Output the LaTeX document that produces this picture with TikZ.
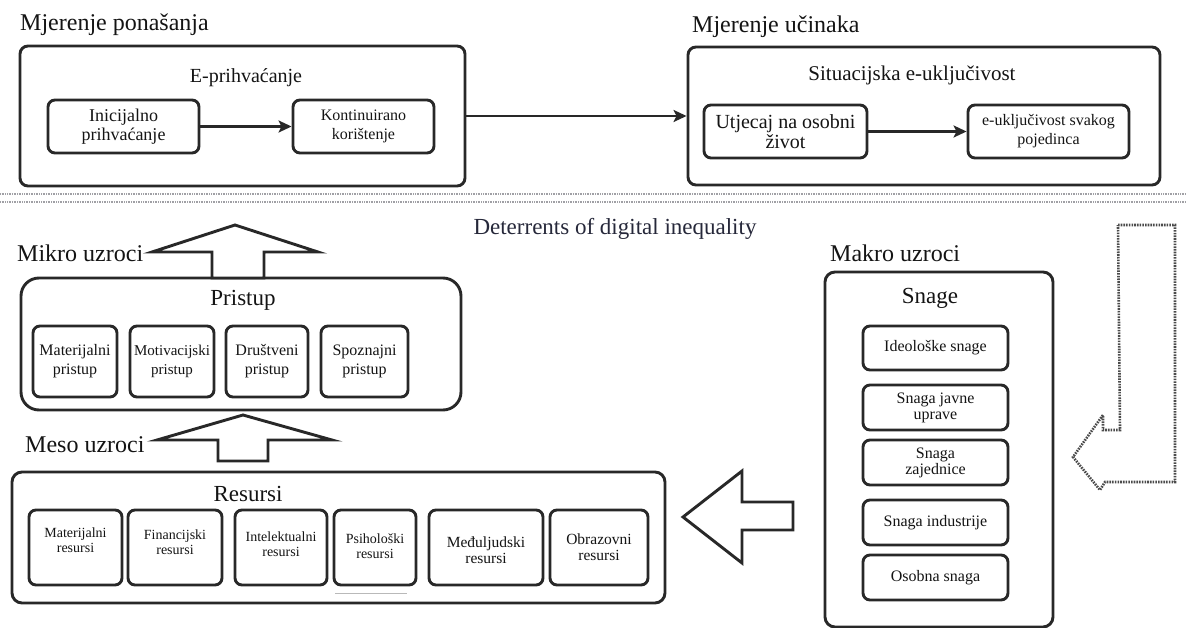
\documentclass[tikz,border=0pt]{standalone}
\usepackage{fontspec}
\setmainfont{Liberation Serif}
\usetikzlibrary{arrows.meta,calc}
\definecolor{lc}{RGB}{40,40,40}
\definecolor{tc}{RGB}{20,20,20}
\definecolor{detc}{RGB}{38,40,58}
\definecolor{dotc}{RGB}{75,75,75}
\definecolor{sepc}{RGB}{160,160,165}
\tikzset{
  bigbox/.style={draw=lc, line width=2.9pt, rounded corners=8pt, inner sep=0pt},
  subbox/.style={draw=lc, line width=2.9pt, rounded corners=7pt, fill=white, inner sep=0pt, align=center, text=tc},
  headtxt/.style={anchor=west, inner sep=0pt, text=tc, font=\fontsize{24pt}{26pt}\selectfont},
  titletxt/.style={inner sep=0pt, text=tc},
  rtext/.style={inner sep=0pt, align=center, text=tc, font=\fontsize{14pt}{15pt}\selectfont},
  conn/.style={-{Stealth[length=13pt,width=12pt,inset=3pt]}, draw=lc, line width=2.9pt},
  blockarrow/.style={draw=lc, line width=2.9pt, fill=white, line join=miter},
  dotarrow/.style={draw=dotc, line width=2.6pt, dash pattern=on 1.6pt off 1.1pt},
  sepline/.style={draw=sepc, line width=2pt, dash pattern=on 1pt off 0.7pt}
}
\begin{document}
\begin{tikzpicture}[x=1pt,y=-1pt]
\useasboundingbox (0,0) rectangle (1186,628);
\fill[white] (0,0) rectangle (1186,628);

% ---------- top section ----------
\node[headtxt] (h1) at (20,25) {Mjerenje ponašanja};
\node[headtxt] (h2) at (692,27) {Mjerenje učinaka};
\node[bigbox, minimum width=445pt, minimum height=140pt] (L) at (242.5,116) {};
\node[bigbox, minimum width=472pt, minimum height=138pt] (R) at (924,116) {};
\node[titletxt, font=\fontsize{20pt}{22pt}\selectfont] (eprih) at (246,78) {E-prihvaćanje};
\node[subbox, minimum width=151pt, minimum height=53pt, font=\fontsize{18pt}{19pt}\selectfont] (ini) at (123.5,126.5) {Inicijalno\\prihvaćanje};
\node[subbox, minimum width=141pt, minimum height=53pt, font=\fontsize{16pt}{19pt}\selectfont] (kon) at (363.5,126.5) {Kontinuirano\\korištenje};
\draw[conn] (ini) -- (kon);
\draw[conn] (L) -- (R);
\node[titletxt, font=\fontsize{21pt}{23pt}\selectfont] (sit) at (912,75) {Situacijska e-uključivost};
\node[subbox, minimum width=163pt, minimum height=53pt, font=\fontsize{20pt}{20pt}\selectfont] (utj) at (785.5,131.5) {Utjecaj na osobni\\život};
\node[subbox, minimum width=161pt, minimum height=53pt, font=\fontsize{16pt}{19pt}\selectfont] (euk) at (1048.5,131.5) {e-uključivost svakog\\pojedinca};
\draw[conn] (utj) -- (euk);

% ---------- separator ----------
\draw[sepline] (0,194) -- (1186,194);
\draw[sepline] (0,202) -- (1186,202);

\node[titletxt, text=detc, font=\fontsize{23pt}{25pt}\selectfont] (det) at (615,229) {Deterrents of digital inequality};

% ---------- Pristup ----------
\node[headtxt] (mikro) at (17,253) {Mikro uzroci};
\node[bigbox, rounded corners=18pt, minimum width=440pt, minimum height=132pt] (pri) at (241,344) {};
\node[titletxt, font=\fontsize{23pt}{25pt}\selectfont] (prit) at (243,300) {Pristup};
\node[subbox, minimum width=84pt, minimum height=71pt, font=\fontsize{16pt}{19pt}\selectfont] (pmat) at (75,361.5) {Materijalni\\pristup};
\node[subbox, minimum width=84pt, minimum height=71pt, font=\fontsize{15pt}{19pt}\selectfont] (pmot) at (172,361.5) {Motivacijski\\pristup};
\node[subbox, minimum width=82pt, minimum height=71pt, font=\fontsize{16pt}{19pt}\selectfont] (pdru) at (267,361.5) {Društveni\\pristup};
\node[subbox, minimum width=87pt, minimum height=71pt, font=\fontsize{16pt}{19pt}\selectfont] (pspo) at (364.5,361.5) {Spoznajni\\pristup};
\draw[blockarrow] (212,278) -- (212,252) -- (152,252) -- (235,225) -- (318,252) -- (264,252) -- (264,278) -- cycle;

% ---------- Resursi ----------
\node[headtxt] (meso) at (25,445) {Meso uzroci};
\draw[blockarrow] (218,461) -- (218,440) -- (157,440) -- (243,415) -- (332,440) -- (268,440) -- (268,461) -- cycle;
\node[bigbox, rounded corners=10pt, minimum width=653pt, minimum height=131pt] (res) at (338.5,537.5) {};
\node[titletxt, font=\fontsize{23pt}{25pt}\selectfont] (rest) at (248,494) {Resursi};
\node[subbox, minimum width=93pt, minimum height=75pt] (rmat) at (75.5,547.5) {};
\node[subbox, minimum width=94pt, minimum height=75pt] (rfin) at (175,547.5) {};
\node[subbox, minimum width=92pt, minimum height=75pt] (rint) at (281,547.5) {};
\node[subbox, minimum width=82pt, minimum height=75pt] (rpsi) at (375,547.5) {};
\node[subbox, minimum width=114pt, minimum height=75pt] (rmed) at (486,547.5) {};
\node[subbox, minimum width=98pt, minimum height=75pt] (robr) at (599,547.5) {};
\node[rtext] (tmat) at ([yshift=7pt]rmat.center) {Materijalni\\resursi};
\node[rtext] (tfin) at ([yshift=5pt]rfin.center) {Financijski\\resursi};
\node[rtext] (tint) at ([yshift=3pt]rint.center) {Intelektualni\\resursi};
\node[rtext] (tpsi) at ([yshift=1.5pt]rpsi.center) {Psihološki\\resursi};
\node[rtext, font=\fontsize{15.5pt}{16pt}\selectfont] (tmed) at ([yshift=-3pt]rmed.center) {Međuljudski\\resursi};
\node[rtext, font=\fontsize{15.5pt}{16pt}\selectfont] (tobr) at ([yshift=0pt]robr.center) {Obrazovni\\resursi};
\draw[gray!55, line width=0.8pt] (335,593) -- (407,593);

% ---------- big left arrow ----------
\draw[blockarrow] (793,502) -- (742,502) -- (742,471) -- (683,517) -- (742,563) -- (742,530) -- (793,530) -- cycle;

% ---------- Snage ----------
\node[headtxt] (makro) at (830,253) {Makro uzroci};
\node[bigbox, rounded corners=10pt, minimum width=228pt, minimum height=355pt] (sna) at (939,449.5) {};
\node[titletxt, font=\fontsize{23pt}{25pt}\selectfont] (snat) at (930,298) {Snage};
\node[subbox, minimum width=145pt, minimum height=44pt, font=\fontsize{16pt}{16pt}\selectfont] (s1) at (935.5,348) {Ideološke snage};
\node[subbox, minimum width=145pt, minimum height=45pt, font=\fontsize{16pt}{16pt}\selectfont] (s2) at (935.5,407.5) {Snaga javne\\uprave};
\node[subbox, minimum width=145pt, minimum height=45pt, font=\fontsize{16pt}{16pt}\selectfont] (s3) at (935.5,462.5) {Snaga\\zajednice};
\node[subbox, minimum width=145pt, minimum height=45pt, font=\fontsize{16pt}{16pt}\selectfont] (s4) at (935.5,522.5) {Snaga industrije};
\node[subbox, minimum width=145pt, minimum height=45pt, font=\fontsize{16pt}{16pt}\selectfont] (s5) at (935.5,577.5) {Osobna snaga};

% ---------- dotted bent arrow ----------
\draw[dotarrow] (1118,225) -- (1175,225) -- (1175,482) -- (1105,482) -- (1100,490) -- (1073,457) -- (1103,415) -- (1103,430) -- (1120,430) -- cycle;
\end{tikzpicture}
\end{document}
